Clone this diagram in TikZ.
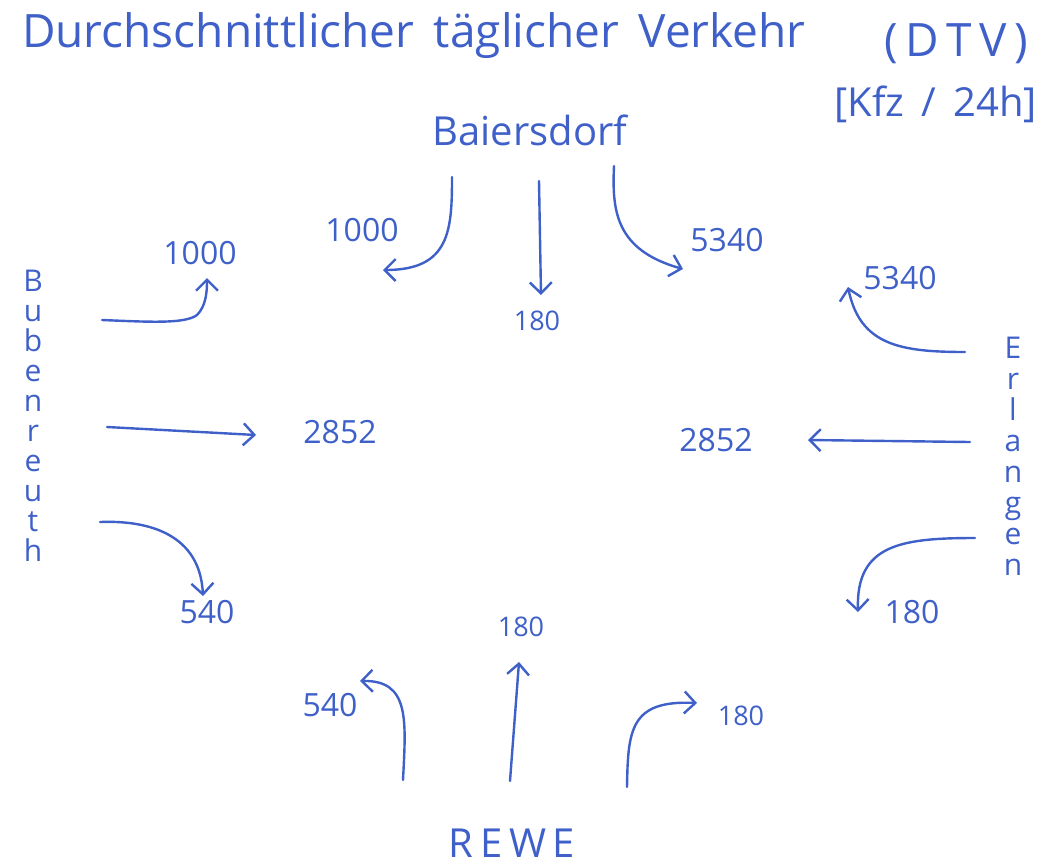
\documentclass[tikz,border=0pt]{standalone}
\usepackage{fontspec}
\setmainfont{Open Sans}
\usetikzlibrary{arrows.meta}
\definecolor{ink}{RGB}{62,96,200}
\tikzset{
  ink/.style={color=ink},
  flow/.style={draw=ink, line width=2.4pt, line cap=round, -{Straight Barb[length=11pt,width=22pt,line width=2.4pt]}},
  big/.style={ink, font=\fontsize{40}{44}\selectfont, inner sep=0pt},
  huge/.style={ink, font=\fontsize{46}{50}\selectfont, inner sep=0pt},
  num/.style={ink, font=\fontsize{32}{36}\selectfont, inner sep=0pt},
  small/.style={ink, font=\fontsize{27}{30}\selectfont, inner sep=0pt},
  vert/.style={ink, font=\fontsize{30}{32}\selectfont, inner sep=0pt, align=center},
}
\begin{document}
\begin{tikzpicture}[x=1pt,y=-1pt]
\useasboundingbox (0,0) rectangle (1041,865);
% titles
\node[huge, anchor=west] (title) at (22,36) {Durchschnittlicher\, täglicher\, Verkehr};
\node[huge, anchor=west] (dtv) at (884,44) {(\,D\,T\,V\,)};
\node[big, anchor=east] (unit) at (1037,104) {[Kfz\, /\, 24h]};
\node[big] (baiersdorf) at (530,130) {Baiersdorf};
\node[big] (rewe) at (512,843) {R\,E\,W\,E};
\node[vert] (bubenreuth) at (33,416) {B\\[-2pt]u\\[-2pt]b\\[-2pt]e\\[-2pt]n\\[-2pt]r\\[-2pt]e\\[-2pt]u\\[-2pt]t\\[-2pt]h};
\node[vert] (erlangen) at (1013,456) {E\\[-1pt]r\\[-1pt]l\\[-1pt]a\\[-1pt]n\\[-1pt]g\\[-1pt]e\\[-1pt]n};
% numbers
\node[num] (b1) at (200,253) {1000};
\node[num] (b2) at (340,432) {2852};
\node[num] (b3) at (207,612) {540};
\node[num] (n1) at (362,230) {1000};
\node[small] (n2) at (537,321) {180};
\node[num] (n3) at (727,240) {5340};
\node[num] (e1) at (900,278) {5340};
\node[num] (e2) at (716,440) {2852};
\node[num] (e3) at (912,612) {180};
\node[num] (s1) at (330,705) {540};
\node[small] (s2) at (521,627) {180};
\node[small] (s3) at (741,716) {180};
% arrows: Bubenreuth
\coordinate (b1s) at (102,320); \coordinate (b1e) at (207,278);
\draw[flow] (b1s) .. controls (150,322) and (185,324) .. (197,315) .. controls (206,306) and (207,292) .. (b1e);
\coordinate (b2s) at (107,427); \coordinate (b2e) at (256,435);
\draw[flow] (b2s) -- (b2e);
\coordinate (b3s) at (100,522); \coordinate (b3e) at (203,596);
\draw[flow] (b3s) .. controls (150,520) and (200,535) .. (b3e);
% Baiersdorf
\coordinate (n1s) at (452,177); \coordinate (n1e) at (383,270);
\draw[flow] (n1s) .. controls (452,230) and (450,270) .. (n1e);
\coordinate (n2s) at (539,181); \coordinate (n2e) at (541,295);
\draw[flow] (n2s) -- (n2e);
\coordinate (n3s) at (614,166); \coordinate (n3e) at (683,269);
\draw[flow] (n3s) .. controls (612,210) and (615,250) .. (n3e);
% Erlangen
\coordinate (e1s) at (965,352); \coordinate (e1e) at (848,287);
\draw[flow] (e1s) .. controls (900,352) and (860,345) .. (e1e);
\coordinate (e2s) at (970,442); \coordinate (e2e) at (808,440);
\draw[flow] (e2s) -- (e2e);
\coordinate (e3s) at (975,538); \coordinate (e3e) at (858,612);
\draw[flow] (e3s) .. controls (900,538) and (856,545) .. (e3e);
% REWE
\coordinate (s1s) at (403,780); \coordinate (s1e) at (360,681);
\draw[flow] (s1s) .. controls (406,720) and (410,680) .. (s1e);
\coordinate (s2s) at (510,781); \coordinate (s2e) at (519,662);
\draw[flow] (s2s) -- (s2e);
\coordinate (s3s) at (627,787); \coordinate (s3e) at (697,703);
\draw[flow] (s3s) .. controls (628,730) and (630,700) .. (s3e);
\end{tikzpicture}
\end{document}
